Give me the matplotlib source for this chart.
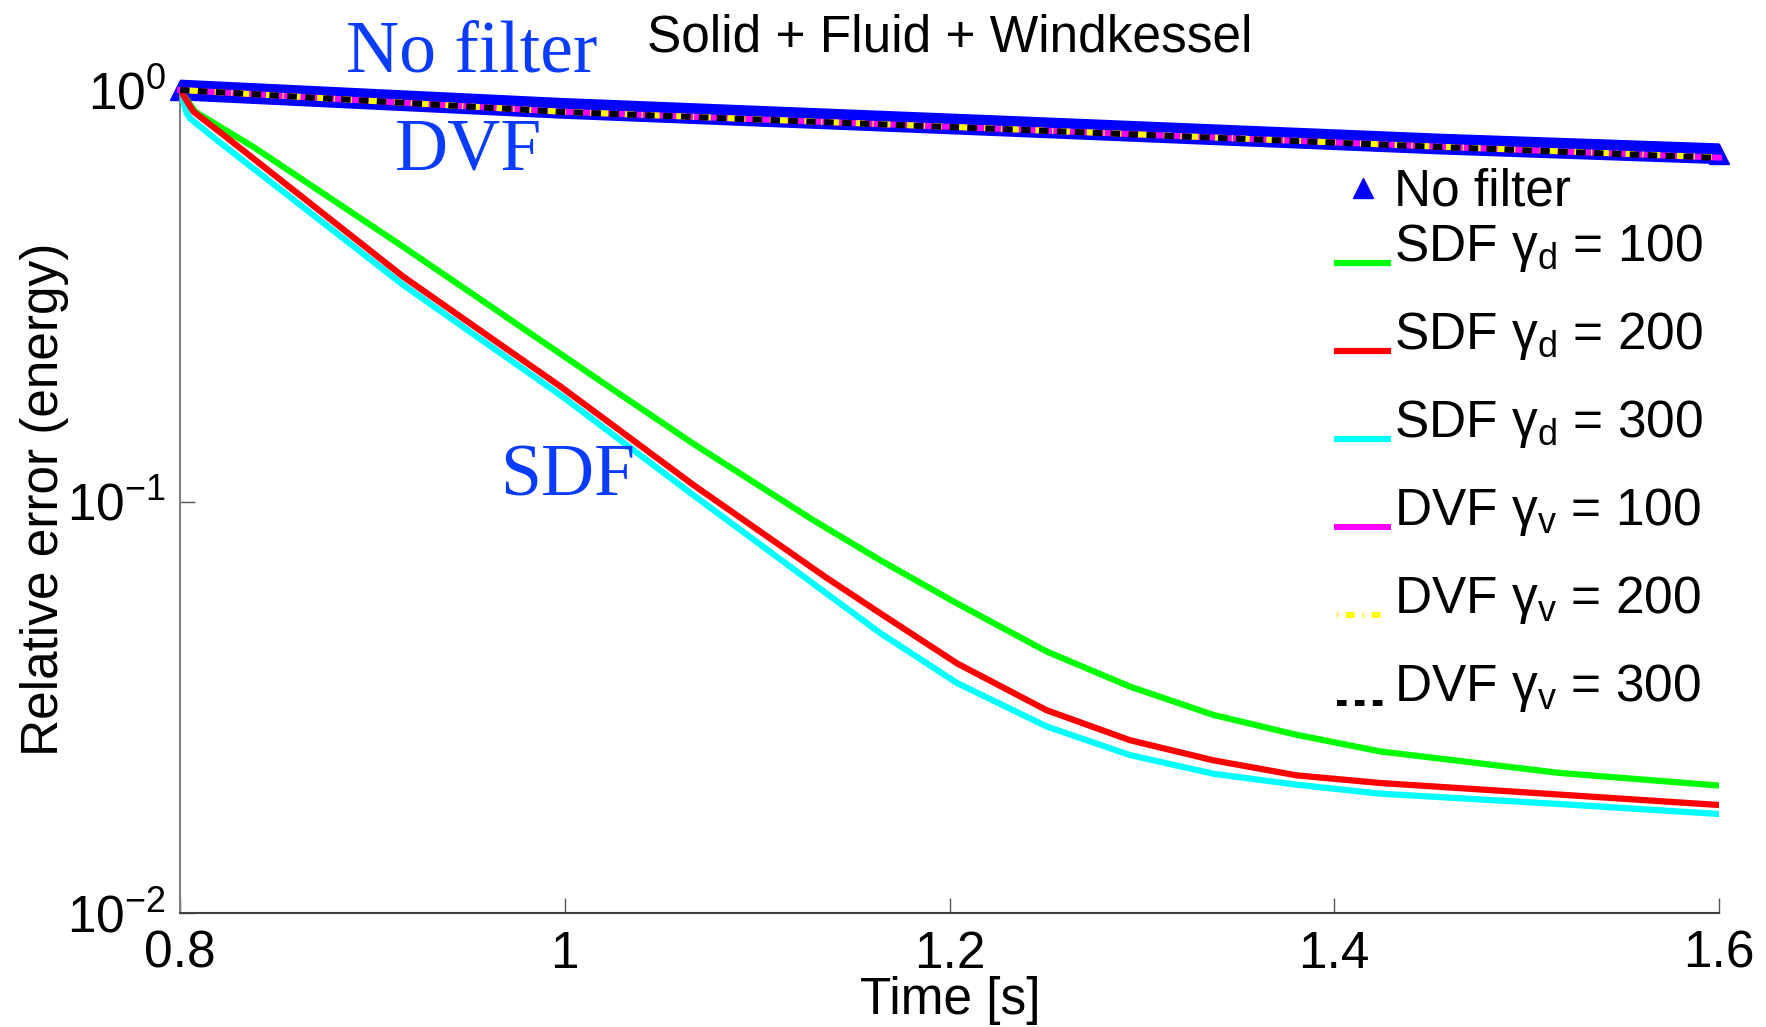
import numpy as np
import matplotlib
matplotlib.use("Agg")
import matplotlib.pyplot as plt
from matplotlib.lines import Line2D
from matplotlib.legend_handler import HandlerLine2D

plt.rcParams['font.family'] = ['Liberation Sans', 'DejaVu Sans']
plt.rcParams['mathtext.fontset'] = 'custom'
plt.rcParams['mathtext.rm'] = 'Liberation Sans'
plt.rcParams['mathtext.it'] = 'Liberation Sans'
plt.rcParams['mathtext.default'] = 'regular'

# --- data ---
t_nofilter = [0.8, 0.9975, 1.2263, 1.455, 1.6]
err_nofilter = [1.0, 0.903, 0.818, 0.739, 0.700]

t_dvf = [0.8, 0.9975, 1.2263, 1.455, 1.6]
err_dvf100 = [1.0, 0.886, 0.805, 0.728, 0.685]
err_dvf200 = [1.0, 0.886, 0.805, 0.728, 0.686]
err_dvf300 = [1.0, 0.885, 0.804, 0.727, 0.684]

t_sdf100 = [0.8, 0.8078, 0.838, 0.916, 1.018, 1.067, 1.129, 1.164, 1.204,
            1.2505, 1.2938, 1.3371, 1.3805, 1.4238, 1.517, 1.6]
err_sdf100 = [1.0, 0.886, 0.728, 0.416, 0.197, 0.138, 0.0902, 0.0720, 0.0565,
              0.0432, 0.0355, 0.0303, 0.0271, 0.0247, 0.0219, 0.0204]

t_sdf200 = [0.8, 0.807, 0.823, 0.916, 0.998, 1.067, 1.136, 1.164, 1.204,
            1.2505, 1.2938, 1.3371, 1.3805, 1.4238, 1.517, 1.6]
err_sdf200 = [1.0, 0.886, 0.775, 0.352, 0.190, 0.1096, 0.0653, 0.0535, 0.0404,
              0.0311, 0.0263, 0.0235, 0.0216, 0.0207, 0.0194, 0.0183]

t_sdf300 = [0.8, 0.8035, 0.8052, 0.818, 0.916, 0.998, 1.067, 1.136, 1.164,
            1.204, 1.2505, 1.2938, 1.3371, 1.3805, 1.4238, 1.517, 1.6]
err_sdf300 = [1.0, 0.878, 0.853, 0.763, 0.336, 0.181, 0.1035, 0.0598, 0.0479,
              0.0362, 0.0284, 0.0242, 0.0218, 0.0205, 0.0195, 0.0184, 0.0174]

xticks = [0.8, 1.0, 1.2, 1.4, 1.6]
xticklabels = ['0.8', '1', '1.2', '1.4', '1.6']
yticks = [0.01, 0.1, 1.0]

W, H = 1766, 1027
fig = plt.figure(figsize=(W / 100, H / 100), dpi=100)
ax = fig.add_axes([180 / W, 1 - 913 / H, (1719 - 180) / W, (913 - 90) / H])

blue = '#0000FF'
txt_blue = '#0A3CFF'
dash_y = (0.2, 1.3, 1.5, 1.3)
dash_k = (1.6, 1.4)

# no filter: dense triangles in the original -> thick band
ax.plot(t_nofilter, err_nofilter, color=blue, lw=15, solid_capstyle='butt',
        marker='^', ms=15, markevery=[0, len(t_nofilter) - 1], zorder=2,
        clip_on=False)
ax.plot(t_sdf100, err_sdf100, color='#00FF00', lw=4.5, zorder=3)
ax.plot(t_sdf300, err_sdf300, color='#00FFFF', lw=4.5, zorder=4)
ax.plot(t_sdf200, err_sdf200, color='#FF0000', lw=4.5, zorder=5)
ax.plot(t_dvf, err_dvf100, color='#FF00FF', lw=4.3, zorder=6, clip_on=False)
ax.plot(t_dvf, err_dvf200, color='#FFFF00', lw=4.3, dashes=dash_y,
        zorder=7, clip_on=False)
ax.plot(t_dvf, err_dvf300, color='black', lw=4.3, dashes=dash_k,
        zorder=8, clip_on=False)

ax.set_yscale('log')
ax.set_xlim(0.8, 1.6)
ax.set_ylim(0.01, 1.0)
ax.set_xticks(xticks)
ax.set_xticklabels(xticklabels)
ax.set_yticks(yticks)
ax.yaxis.set_minor_locator(matplotlib.ticker.NullLocator())
ax.tick_params(direction='in', length=11, width=1, color='#555555',
               labelsize=37)
ax.tick_params(axis='x', pad=12)
ax.tick_params(axis='y', pad=10)
for s in ['top', 'right']:
    ax.spines[s].set_visible(False)
ax.spines['left'].set_color('#808080')
ax.spines['bottom'].set_color('#404040')
ax.spines['left'].set_linewidth(1.5)
ax.spines['bottom'].set_linewidth(1.5)

fig.text(950 / W, 1 - 52 / H, 'Solid + Fluid + Windkessel', fontsize=37,
         ha='center', va='baseline')
fig.text(950 / W, 1 - 1014 / H, 'Time [s]', fontsize=37, ha='center',
         va='baseline')
fig.text(45 / W, 1 - 499 / H, 'Relative error (energy)', fontsize=37,
         rotation=90, ha='center', va='center')

serif = ['Liberation Serif', 'DejaVu Serif']
fig.text(346 / W, 1 - 71 / H, 'No filter', family=serif, fontsize=53,
         color=txt_blue, ha='left', va='baseline')
fig.text(395 / W, 1 - 170 / H, 'DVF', family=serif, fontsize=53,
         color=txt_blue, ha='left', va='baseline')
fig.text(500 / W, 1 - 495 / H, 'SDF', family=serif, fontsize=53,
         color=txt_blue, ha='left', va='baseline')


class LoweredLine(HandlerLine2D):
    # legend line sits at the text baseline, as in the original
    def create_artists(self, legend, orig_handle, xdescent, ydescent,
                       width, height, fontsize, trans):
        arts = super().create_artists(legend, orig_handle, xdescent, ydescent,
                                      width, height, fontsize, trans)
        for a in arts:
            a.set_ydata(np.asarray(a.get_ydata()) - 0.39 * fontsize)
        return arts


leg_kw = dict(loc='upper left', frameon=False, fontsize=37, handlelength=1.0,
              handletextpad=0.1, borderpad=0, borderaxespad=0)

fig.legend([Line2D([], [], color=blue, marker='^', ms=15, lw=0)],
           ['No filter'], bbox_to_anchor=(1337 / W, 1 - 168 / H), **leg_kw)

line_handles = [
    Line2D([], [], color='#00FF00', lw=4.5),
    Line2D([], [], color='#FF0000', lw=4.5),
    Line2D([], [], color='#00FFFF', lw=4.5),
    Line2D([], [], color='#FF00FF', lw=4.3),
    Line2D([], [], color='#FFFF00', lw=4.3, dashes=dash_y),
    Line2D([], [], color='black', lw=4.3, dashes=dash_k),
]
line_labels = [r'SDF $\gamma_d$ = 100', r'SDF $\gamma_d$ = 200',
               r'SDF $\gamma_d$ = 300',
               r'DVF $\gamma_v$ = 100', r'DVF $\gamma_v$ = 200',
               r'DVF $\gamma_v$ = 300']
fig.legend(line_handles, line_labels, bbox_to_anchor=(1337 / W, 1 - 222 / H),
           labelspacing=0.70, handler_map={Line2D: LoweredLine()}, **leg_kw)

fig.savefig('out.png', dpi=100)
